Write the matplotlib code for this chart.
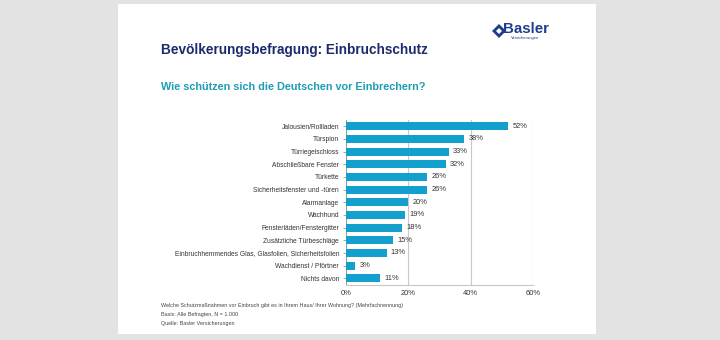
import matplotlib
matplotlib.use("Agg")
import matplotlib.pyplot as plt
from matplotlib.patches import Rectangle, Polygon

plt.rcParams['font.family'] = ['Liberation Sans', 'DejaVu Sans']

categories = [
    'Jalousien/Rollladen',
    'Türspion',
    'Türriegelschloss',
    'Abschließbare Fenster',
    'Türkette',
    'Sicherheitsfenster und -türen',
    'Alarmanlage',
    'Wachhund',
    'Fensterläden/Fenstergitter',
    'Zusätzliche Türbeschläge',
    'Einbruchhemmendes Glas, Glasfolien, Sicherheitsfolien',
    'Wachdienst / Pförtner',
    'Nichts davon',
]
values = [52, 38, 33, 32, 26, 26, 20, 19, 18, 15, 13, 3, 11]
xticks = [0, 20, 40, 60]

title = 'Bevölkerungsbefragung: Einbruchschutz'
subtitle = 'Wie schützen sich die Deutschen vor Einbrechern?'
notes = [
    'Welche Schutzmaßnahmen vor Einbruch gibt es in Ihrem Haus/ Ihrer Wohnung? (Mehrfachnennung)',
    'Basis: Alle Befragten, N = 1.000',
    'Quelle: Basler Versicherungen',
]

bar_color = '#14a0cd'
text_color = '#333333'
grid_color = '#c8c8c8'

fig = plt.figure(figsize=(7.2, 3.4), dpi=100)
fig.patch.set_facecolor('#e3e3e3')

# white slide behind everything
fig.patches.append(Rectangle((118 / 720, 1 - 334 / 340), 478 / 720, 330 / 340,
                             transform=fig.transFigure, facecolor='white',
                             edgecolor='none', zorder=-5))

fig.text(161 / 720, 1 - 50 / 340, title, fontsize=9.8, fontweight='bold',
         color='#1d2b6e', va='center', ha='left')
fig.text(161 / 720, 1 - 87 / 340, subtitle, fontsize=7.8, fontweight='bold',
         color='#1e9db3', va='center', ha='left')

# logo
fig.patches.append(Polygon([(492 / 720, 1 - 31 / 340), (499 / 720, 1 - 24 / 340),
                            (506 / 720, 1 - 31 / 340), (499 / 720, 1 - 38 / 340)],
                           closed=True, transform=fig.transFigure,
                           facecolor='#1e3d8f', edgecolor='none'))
fig.patches.append(Polygon([(496 / 720, 1 - 31 / 340), (499 / 720, 1 - 28 / 340),
                            (502 / 720, 1 - 31 / 340), (499 / 720, 1 - 34 / 340)],
                           closed=True, transform=fig.transFigure,
                           facecolor='white', edgecolor='none'))
fig.text(503 / 720, 1 - 29 / 340, 'Basler', fontsize=10.8, fontweight='bold',
         color='#1e3d8f', va='center', ha='left')
fig.text(511 / 720, 1 - 38.5 / 340, 'Versicherungen', fontsize=3.0,
         color='#1e3d8f', va='center', ha='left')

ax = fig.add_axes([346 / 720, 1 - 284.5 / 340, 187 / 720, 164.5 / 340])
ax.set_facecolor('none')
y = range(len(categories))
ax.barh(y, values, height=0.63, color=bar_color, zorder=3)
for yi, v in zip(y, values):
    ax.text(v + 1.4, yi, f'{v}%', va='center', ha='left', fontsize=5.4,
            color=text_color)

ax.set_ylim(len(categories) - 0.5, -0.5)
ax.set_xlim(0, 60)
ax.set_yticks(list(y))
ax.set_yticklabels(categories, fontsize=4.8, color=text_color)
ax.set_xticks(xticks)
ax.set_xticklabels([f'{t}%' for t in xticks], fontsize=5.4, color=text_color)
ax.tick_params(axis='y', length=2, width=0.6, color='#999999', pad=3)
ax.tick_params(axis='x', length=0, pad=4)
ax.grid(axis='x', color=grid_color, linewidth=0.8, zorder=0)
for s in ['top', 'right']:
    ax.spines[s].set_visible(False)
ax.spines['left'].set_color('#999999')
ax.spines['left'].set_linewidth(0.7)
ax.spines['bottom'].set_color(grid_color)
ax.spines['bottom'].set_linewidth(0.8)

for i, line in enumerate(notes):
    fig.text(161 / 720, 1 - (305 + 9.5 * i) / 340, line, fontsize=3.9,
             color='#444444', va='center', ha='left')

fig.savefig('out.png', dpi=100, facecolor=fig.get_facecolor())
